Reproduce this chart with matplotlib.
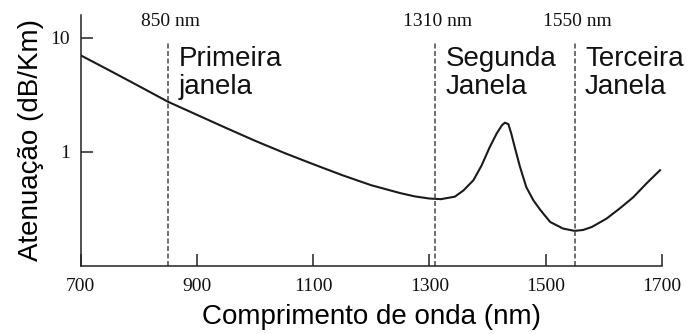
import matplotlib
matplotlib.use("Agg")
import matplotlib.pyplot as plt

# attenuation curve (nm, dB/Km)
wavelength = [700, 750, 800, 850, 900, 950, 1000, 1050, 1100, 1150, 1200, 1250,
              1275, 1300, 1320, 1344, 1359, 1376, 1390, 1404, 1416, 1425, 1430,
              1436, 1441, 1447, 1456, 1467, 1479, 1491, 1508, 1530, 1550, 1565,
              1580, 1605, 1628, 1651, 1674, 1697]
attenuation = [7.0, 5.15, 3.77, 2.75, 2.11, 1.62, 1.25, 0.98, 0.78, 0.625, 0.51, 0.435,
               0.407, 0.39, 0.385, 0.405, 0.46, 0.565, 0.76, 1.1, 1.45, 1.71, 1.8,
               1.75, 1.45, 1.1, 0.74, 0.49, 0.377, 0.31, 0.243, 0.213, 0.203, 0.207,
               0.22, 0.26, 0.32, 0.40, 0.53, 0.69]

windows = [850, 1310, 1550]
window_tags = ["850 nm", "1310 nm", "1550 nm"]
window_names = ["Primeira\njanela", "Segunda\nJanela", "Terceira\nJanela"]

x_ticks = [700, 900, 1100, 1300, 1500, 1700]
y_ticks = [1, 10]

SANS = "Liberation Sans"
SERIF = "Liberation Serif"

fig = plt.figure(figsize=(6.9, 3.34), dpi=100)
ax = fig.add_axes([0.117, 0.2036, 0.842, 0.7515])

ax.plot(wavelength, attenuation, color="#1a1a1a", linewidth=1.5,
        solid_joinstyle="round")

for wl in windows:
    ax.plot([wl, wl], [0.1, 9.0], color="#555555", linewidth=1.2,
            linestyle=(0, (3, 1.5)))

ax.set_yscale("log")
ax.set_xlim(700, 1700)
ax.set_ylim(0.1, 15.8)

ax.set_xticks(x_ticks)
ax.set_xticklabels([str(t) for t in x_ticks], fontfamily=SERIF, fontsize=14,
                   color="#111111")
ax.set_yticks(y_ticks)
ax.set_yticklabels([str(t) for t in y_ticks], fontfamily=SERIF, fontsize=14,
                   color="#111111")
ax.yaxis.set_minor_locator(matplotlib.ticker.NullLocator())
ax.tick_params(direction="in", length=8.5, width=1.1, color="#222222", pad=9)
ax.tick_params(axis="y", pad=8)

for side in ["top", "right"]:
    ax.spines[side].set_visible(False)
for side in ["left", "bottom"]:
    ax.spines[side].set_linewidth(1.1)
    ax.spines[side].set_color("#222222")

ax.set_xlabel("Comprimento de onda (nm)", fontfamily=SANS, fontsize=20, labelpad=6)
ax.set_ylabel("Atenuação (dB/Km)", fontfamily=SANS, fontsize=20, labelpad=4)

# window labels above the dashed lines
trans = ax.get_xaxis_transform()
for wl, tag, name in zip(windows, window_tags, window_names):
    ax.text(wl + 4, 0.955, tag, transform=trans, ha="center", va="baseline",
            fontfamily=SERIF, fontsize=14, color="#111111")
    ax.text(wl + 18, 0.875, name, transform=trans, ha="left", va="top",
            fontfamily=SANS, fontsize=20, color="#111111", linespacing=1.08)

fig.savefig("out.png", dpi=100)
